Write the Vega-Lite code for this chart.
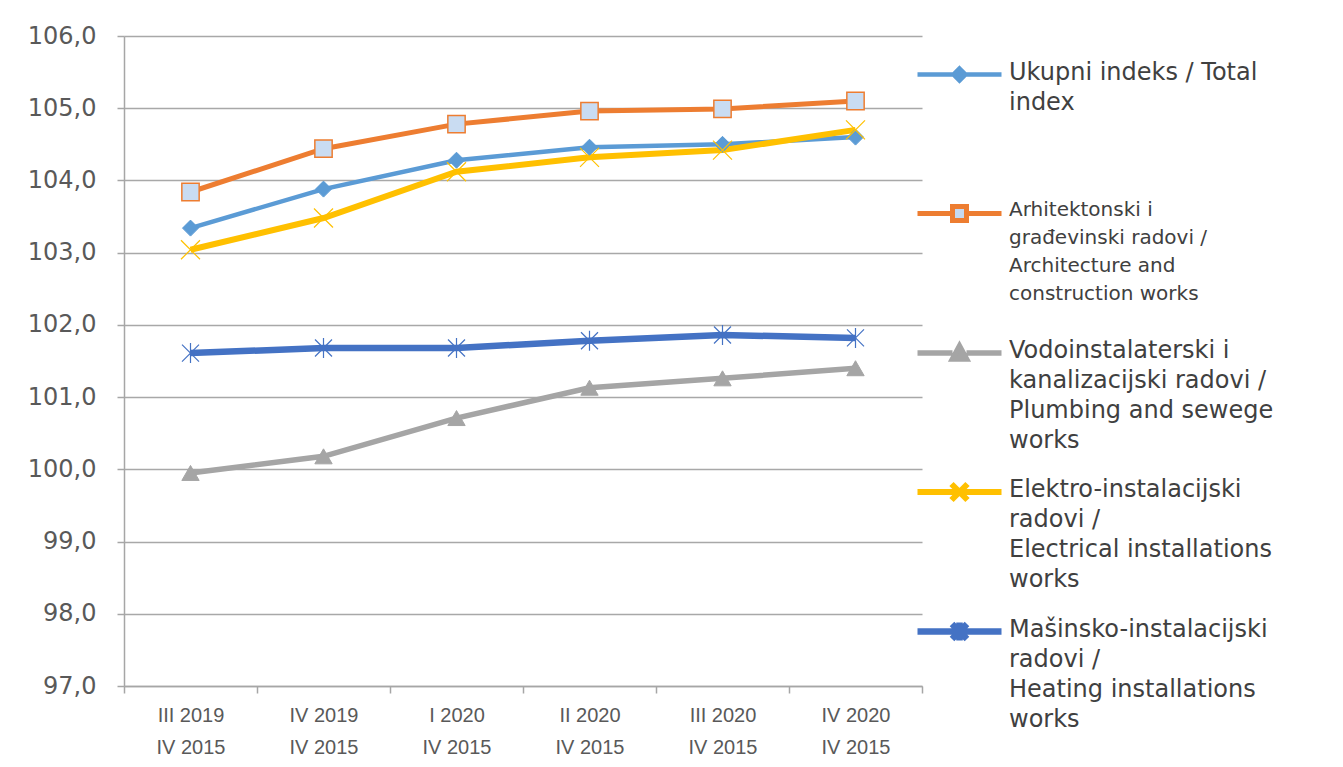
{
  "$schema": "https://vega.github.io/schema/vega-lite/v6.json",
  "width": 798,
  "height": 650,
  "autosize": {"type": "none"},
  "padding": {"left": 124, "top": 36, "right": 421, "bottom": 81},
  "background": "white",
  "config": {"view": {"stroke": null}, "font": "DejaVu Sans"},
  "data": {
    "values": [
      {"period": "III 2019|IV 2015", "series": "total", "value": 103.34},
      {"period": "IV 2019|IV 2015", "series": "total", "value": 103.88},
      {"period": "I 2020|IV 2015", "series": "total", "value": 104.28},
      {"period": "II 2020|IV 2015", "series": "total", "value": 104.46},
      {"period": "III 2020|IV 2015", "series": "total", "value": 104.50},
      {"period": "IV 2020|IV 2015", "series": "total", "value": 104.60},
      {"period": "III 2019|IV 2015", "series": "arch", "value": 103.84},
      {"period": "IV 2019|IV 2015", "series": "arch", "value": 104.44},
      {"period": "I 2020|IV 2015", "series": "arch", "value": 104.78},
      {"period": "II 2020|IV 2015", "series": "arch", "value": 104.96},
      {"period": "III 2020|IV 2015", "series": "arch", "value": 104.99},
      {"period": "IV 2020|IV 2015", "series": "arch", "value": 105.10},
      {"period": "III 2019|IV 2015", "series": "plumb", "value": 99.95},
      {"period": "IV 2019|IV 2015", "series": "plumb", "value": 100.18},
      {"period": "I 2020|IV 2015", "series": "plumb", "value": 100.71},
      {"period": "II 2020|IV 2015", "series": "plumb", "value": 101.13},
      {"period": "III 2020|IV 2015", "series": "plumb", "value": 101.26},
      {"period": "IV 2020|IV 2015", "series": "plumb", "value": 101.40},
      {"period": "III 2019|IV 2015", "series": "elec", "value": 103.04},
      {"period": "IV 2019|IV 2015", "series": "elec", "value": 103.48},
      {"period": "I 2020|IV 2015", "series": "elec", "value": 104.12},
      {"period": "II 2020|IV 2015", "series": "elec", "value": 104.32},
      {"period": "III 2020|IV 2015", "series": "elec", "value": 104.42},
      {"period": "IV 2020|IV 2015", "series": "elec", "value": 104.70},
      {"period": "III 2019|IV 2015", "series": "heat", "value": 101.61},
      {"period": "IV 2019|IV 2015", "series": "heat", "value": 101.68},
      {"period": "I 2020|IV 2015", "series": "heat", "value": 101.68},
      {"period": "II 2020|IV 2015", "series": "heat", "value": 101.78},
      {"period": "III 2020|IV 2015", "series": "heat", "value": 101.86},
      {"period": "IV 2020|IV 2015", "series": "heat", "value": 101.82}
    ]
  },
  "encoding": {
    "x": {
      "field": "period",
      "type": "nominal",
      "sort": null,
      "bandPosition": 0.5,
      "scale": {"type": "band", "paddingInner": 0, "paddingOuter": 0},
      "axis": {
        "title": null,
        "labelExpr": "split(datum.label, '|')",
        "labelAngle": 0,
        "labelFont": "Liberation Sans",
        "labelFontSize": 20,
        "labelColor": "#595959",
        "labelLineHeight": 32,
        "labelPadding": 12,
        "tickBand": "extent",
        "tickSize": 7,
        "tickWidth": 1.5,
        "tickColor": "#a6a6a6",
        "domainColor": "#a6a6a6",
        "domainWidth": 1.5,
        "grid": false
      }
    },
    "y": {
      "field": "value",
      "type": "quantitative",
      "scale": {"domain": [97, 106], "nice": false, "zero": false},
      "axis": {
        "title": null,
        "values": [97, 98, 99, 100, 101, 102, 103, 104, 105, 106],
        "labelExpr": "replace(format(datum.value, '.1f'), '.', ',')",
        "labelFont": "DejaVu Sans",
        "labelFontSize": 24,
        "labelColor": "#595959",
        "labelPadding": 21,
        "tickSize": 7,
        "tickWidth": 1.5,
        "tickColor": "#a6a6a6",
        "domainColor": "#a6a6a6",
        "domainWidth": 1.5,
        "grid": true,
        "gridColor": "#a8a8a8",
        "gridWidth": 1.5
      }
    }
  },
  "layer": [
    {
      "mark": {"type": "line"},
      "encoding": {
        "color": {
          "field": "series",
          "type": "nominal",
          "scale": {
            "domain": ["total", "arch", "plumb", "elec", "heat"],
            "range": ["#5b9bd5", "#ed7d31", "#a5a5a5", "#ffc000", "#4472c4"]
          },
          "legend": {
            "orient": "none",
            "legendX": 790,
            "legendY": 26,
            "title": null,
            "direction": "vertical",
            "gridAlign": "all",
            "symbolSize": 400,
            "symbolStrokeWidth": 3.5,
            "labelFont": "DejaVu Sans",
            "labelFontSize": 24,
            "labelColor": "#404040",
            "labelLimit": 500,
            "labelOffset": 68,
            "labelBaseline": "top",
            "rowPadding": 16,
            "labelExpr": "datum.value == 'total' ? ['Ukupni indeks / Total', 'index', '', ''] : datum.value == 'arch' ? ['Arhitektonski i', 'građevinski radovi /', 'Architecture  and', 'construction works'] : datum.value == 'plumb' ? ['Vodoinstalaterski i', 'kanalizacijski radovi /', 'Plumbing and sewege', 'works'] : datum.value == 'elec' ? ['Elektro-instalacijski', 'radovi /', 'Electrical installations', 'works'] : ['Mašinsko-instalacijski', 'radovi /', 'Heating installations', 'works']",
            "encode": {
              "symbols": {
                "update": {
                  "shape": {"signal": "datum.value == 'total' ? 'M-1,0H2.6M3.8,0H7.4M3.2,-0.6L3.8,0L3.2,0.6L2.6,0Z' : datum.value == 'arch' ? 'M-1,0H2.5M3.9,0H7.4M2.5,-0.7H3.9V0.7H2.5Z' : datum.value == 'plumb' ? 'M-1,0H2.5M3.9,0H7.4M3.2,-0.7L3.9,0.6H2.5Z' : datum.value == 'elec' ? 'M-1,0H7.4M2.4,-0.8L4,0.8M2.4,0.8L4,-0.8' : 'M-1,0H7.4M2.45,-0.75L3.95,0.75M2.45,0.75L3.95,-0.75M3.2,-0.9V0.9'"},
                  "fill": {"signal": "datum.value == 'total' ? '#5b9bd5' : datum.value == 'arch' ? '#c5d9f1' : datum.value == 'plumb' ? '#a5a5a5' : 'transparent'"},
                  "strokeWidth": {"value": 3.5}
                }
              },
              "labels": {
                "update": {
                  "fontSize": {"signal": "datum.value == 'arch' ? 20 : 24"},
                  "lineHeight": {"signal": "datum.value == 'arch' ? 28 : 30"},
                  "dy": {"value": -14}
                }
              }
            }
          }
        },
        "strokeWidth": {
          "field": "series",
          "type": "nominal",
          "scale": {
            "domain": ["total", "arch", "plumb", "elec", "heat"],
            "range": [4.5, 6.5, 4.5, 4.5, 4.5]
          },
          "legend": null
        }
      }
    },
    {
      "transform": [{"filter": "datum.series == 'total'"}],
      "mark": {"type": "point", "shape": "diamond", "filled": true, "fill": "#5b9bd5", "stroke": "#5b9bd5", "strokeWidth": 1, "size": 256, "opacity": 1}
    },
    {
      "transform": [{"filter": "datum.series == 'arch'"}],
      "mark": {"type": "point", "shape": "square", "filled": true, "fill": "#c9dcf2", "stroke": "#ed7d31", "strokeWidth": 1.5, "size": 300, "opacity": 1}
    },
    {
      "transform": [{"filter": "datum.series == 'plumb'"}],
      "mark": {"type": "point", "shape": "triangle-up", "filled": true, "fill": "#a5a5a5", "stroke": "#a5a5a5", "strokeWidth": 1, "size": 300, "opacity": 1}
    },
    {
      "transform": [{"filter": "datum.series == 'elec'"}],
      "mark": {"type": "point", "shape": "M-1,-1L1,1M-1,1L1,-1", "filled": false, "stroke": "#ffc000", "strokeWidth": 1.2, "size": 361, "opacity": 1}
    },
    {
      "transform": [{"filter": "datum.series == 'heat'"}],
      "mark": {"type": "point", "shape": "M-0.85,-0.85L0.85,0.85M-0.85,0.85L0.85,-0.85M0,-1V1", "filled": false, "stroke": "#4472c4", "strokeWidth": 1.2, "size": 400, "opacity": 1}
    }
  ]
}
